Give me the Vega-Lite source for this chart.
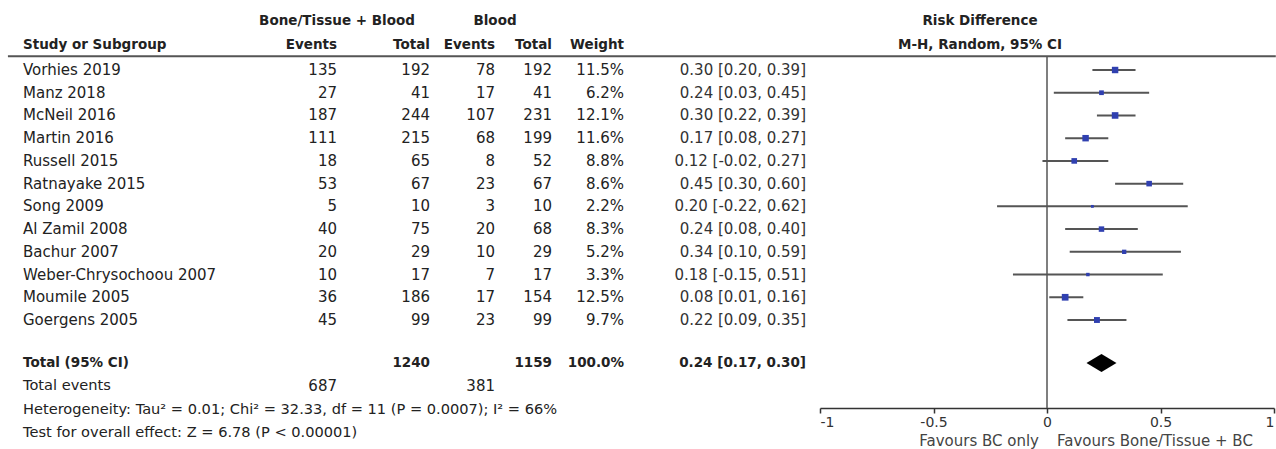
{
  "$schema": "https://vega.github.io/schema/vega-lite/v6.json",
  "width": 1276,
  "height": 449,
  "padding": 0,
  "autosize": {"type": "none"},
  "background": "white",
  "config": {
    "view": {"stroke": null},
    "text": {"font": "DejaVu Sans", "fontSize": 15, "color": "#222", "baseline": "middle"}
  },
  "datasets": {
    "headers": [
      {"label": "Bone/Tissue + Blood", "key": "bt"},
      {"label": "Blood", "key": "b"},
      {"label": "Risk Difference", "key": "rdh"},
      {"label": "M-H, Random, 95% CI", "key": "mh"},
      {"label": "Study or Subgroup", "key": "study"},
      {"label": "Events", "key": "e1"},
      {"label": "Total", "key": "n1"},
      {"label": "Events", "key": "e2"},
      {"label": "Total", "key": "n2"},
      {"label": "Weight", "key": "w"},
      {"label": "Favours BC only", "key": "fl"},
      {"label": "Favours Bone/Tissue + BC", "key": "fr"}
    ],
    "studies": [
      {"study": "Vorhies 2019", "row": 2, "e1": 135, "n1": 192, "e2": 78, "n2": 192, "weight": 0.115, "rd": 0.30, "lo": 0.20, "hi": 0.39, "ci": "0.30 [0.20, 0.39]"},
      {"study": "Manz 2018", "row": 3, "e1": 27, "n1": 41, "e2": 17, "n2": 41, "weight": 0.062, "rd": 0.24, "lo": 0.03, "hi": 0.45, "ci": "0.24 [0.03, 0.45]"},
      {"study": "McNeil 2016", "row": 4, "e1": 187, "n1": 244, "e2": 107, "n2": 231, "weight": 0.121, "rd": 0.30, "lo": 0.22, "hi": 0.39, "ci": "0.30 [0.22, 0.39]"},
      {"study": "Martin 2016", "row": 5, "e1": 111, "n1": 215, "e2": 68, "n2": 199, "weight": 0.116, "rd": 0.17, "lo": 0.08, "hi": 0.27, "ci": "0.17 [0.08, 0.27]"},
      {"study": "Russell 2015", "row": 6, "e1": 18, "n1": 65, "e2": 8, "n2": 52, "weight": 0.088, "rd": 0.12, "lo": -0.02, "hi": 0.27, "ci": "0.12 [-0.02, 0.27]"},
      {"study": "Ratnayake 2015", "row": 7, "e1": 53, "n1": 67, "e2": 23, "n2": 67, "weight": 0.086, "rd": 0.45, "lo": 0.30, "hi": 0.60, "ci": "0.45 [0.30, 0.60]"},
      {"study": "Song 2009", "row": 8, "e1": 5, "n1": 10, "e2": 3, "n2": 10, "weight": 0.022, "rd": 0.20, "lo": -0.22, "hi": 0.62, "ci": "0.20 [-0.22, 0.62]"},
      {"study": "Al Zamil 2008", "row": 9, "e1": 40, "n1": 75, "e2": 20, "n2": 68, "weight": 0.083, "rd": 0.24, "lo": 0.08, "hi": 0.40, "ci": "0.24 [0.08, 0.40]"},
      {"study": "Bachur 2007", "row": 10, "e1": 20, "n1": 29, "e2": 10, "n2": 29, "weight": 0.052, "rd": 0.34, "lo": 0.10, "hi": 0.59, "ci": "0.34 [0.10, 0.59]"},
      {"study": "Weber-Chrysochoou 2007", "row": 11, "e1": 10, "n1": 17, "e2": 7, "n2": 17, "weight": 0.033, "rd": 0.18, "lo": -0.15, "hi": 0.51, "ci": "0.18 [-0.15, 0.51]"},
      {"study": "Moumile 2005", "row": 12, "e1": 36, "n1": 186, "e2": 17, "n2": 154, "weight": 0.125, "rd": 0.08, "lo": 0.01, "hi": 0.16, "ci": "0.08 [0.01, 0.16]"},
      {"study": "Goergens 2005", "row": 13, "e1": 45, "n1": 99, "e2": 23, "n2": 99, "weight": 0.097, "rd": 0.22, "lo": 0.09, "hi": 0.35, "ci": "0.22 [0.09, 0.35]"}
    ],
    "total": [
      {"label": "Total (95% CI)", "row": 15, "n1": 1240, "n2": 1159, "weight": 1.0, "rd": 0.24, "lo": 0.17, "hi": 0.30, "ci": "0.24 [0.17, 0.30]"}
    ],
    "footer": [
      {"label": "Total events", "row": 16, "e1": 687, "e2": 381},
      {"label": "Heterogeneity: Tau² = 0.01; Chi² = 32.33, df = 11 (P = 0.0007); I² = 66%", "row": 17},
      {"label": "Test for overall effect: Z = 6.78 (P < 0.00001)", "row": 18}
    ]
  },
  "resolve": {"scale": {"x": "independent"}},
  "layer": [
    {
      "layer": [
        {"data": {"name": "headers"}, "transform": [{"filter": "datum.key == 'bt'"}], "mark": {"type": "text", "align": "center", "fontWeight": "bold", "fontSize": 13.5},
         "encoding": {"x": {"datum": 1, "type": "quantitative", "axis": null, "scale": {"domain": [0,1,2,3,4,5,6,7], "range": [23,337,430,495,552,624,806,980], "nice": false, "zero": false}},
                      "y": {"datum": 0, "type": "quantitative", "axis": null, "scale": {"domain": [0, 1, 2, 13, 15, 18, 19], "range": [21, 45, 70, 320, 363, 433, 441], "nice": false, "zero": false}}, "text": {"field": "label"}}},
        {"data": {"name": "headers"}, "transform": [{"filter": "datum.key == 'b'"}], "mark": {"type": "text", "align": "center", "fontWeight": "bold", "fontSize": 13.5},
         "encoding": {"x": {"datum": 3, "type": "quantitative", "axis": null, "scale": {"domain": [0,1,2,3,4,5,6,7], "range": [23,337,430,495,552,624,806,980], "nice": false, "zero": false}},
                      "y": {"datum": 0, "type": "quantitative", "axis": null, "scale": {"domain": [0, 1, 2, 13, 15, 18, 19], "range": [21, 45, 70, 320, 363, 433, 441], "nice": false, "zero": false}}, "text": {"field": "label"}}},
        {"data": {"name": "headers"}, "transform": [{"filter": "datum.key == 'rdh'"}], "mark": {"type": "text", "align": "center", "fontWeight": "bold", "fontSize": 13.5},
         "encoding": {"x": {"datum": 7, "type": "quantitative", "axis": null, "scale": {"domain": [0,1,2,3,4,5,6,7], "range": [23,337,430,495,552,624,806,980], "nice": false, "zero": false}},
                      "y": {"datum": 0, "type": "quantitative", "axis": null, "scale": {"domain": [0, 1, 2, 13, 15, 18, 19], "range": [21, 45, 70, 320, 363, 433, 441], "nice": false, "zero": false}}, "text": {"field": "label"}}},
        {"data": {"name": "headers"}, "transform": [{"filter": "datum.key == 'mh'"}], "mark": {"type": "text", "align": "center", "fontWeight": "bold", "fontSize": 13.5},
         "encoding": {"x": {"datum": 7, "type": "quantitative", "axis": null, "scale": {"domain": [0,1,2,3,4,5,6,7], "range": [23,337,430,495,552,624,806,980], "nice": false, "zero": false}},
                      "y": {"datum": 1, "type": "quantitative", "axis": null, "scale": {"domain": [0, 1, 2, 13, 15, 18, 19], "range": [21, 45, 70, 320, 363, 433, 441], "nice": false, "zero": false}}, "text": {"field": "label"}}},
        {"data": {"name": "headers"}, "transform": [{"filter": "datum.key == 'study'"}], "mark": {"type": "text", "align": "left", "fontWeight": "bold", "fontSize": 13.5},
         "encoding": {"x": {"datum": 0, "type": "quantitative", "axis": null, "scale": {"domain": [0,1,2,3,4,5,6,7], "range": [23,337,430,495,552,624,806,980], "nice": false, "zero": false}},
                      "y": {"datum": 1, "type": "quantitative", "axis": null, "scale": {"domain": [0, 1, 2, 13, 15, 18, 19], "range": [21, 45, 70, 320, 363, 433, 441], "nice": false, "zero": false}}, "text": {"field": "label"}}},
        {"data": {"name": "headers"}, "transform": [{"filter": "datum.key == 'e1'"}], "mark": {"type": "text", "align": "right", "fontWeight": "bold", "fontSize": 13.5},
         "encoding": {"x": {"datum": 1, "type": "quantitative", "axis": null, "scale": {"domain": [0,1,2,3,4,5,6,7], "range": [23,337,430,495,552,624,806,980], "nice": false, "zero": false}},
                      "y": {"datum": 1, "type": "quantitative", "axis": null, "scale": {"domain": [0, 1, 2, 13, 15, 18, 19], "range": [21, 45, 70, 320, 363, 433, 441], "nice": false, "zero": false}}, "text": {"field": "label"}}},
        {"data": {"name": "headers"}, "transform": [{"filter": "datum.key == 'n1'"}], "mark": {"type": "text", "align": "right", "fontWeight": "bold", "fontSize": 13.5},
         "encoding": {"x": {"datum": 2, "type": "quantitative", "axis": null, "scale": {"domain": [0,1,2,3,4,5,6,7], "range": [23,337,430,495,552,624,806,980], "nice": false, "zero": false}},
                      "y": {"datum": 1, "type": "quantitative", "axis": null, "scale": {"domain": [0, 1, 2, 13, 15, 18, 19], "range": [21, 45, 70, 320, 363, 433, 441], "nice": false, "zero": false}}, "text": {"field": "label"}}},
        {"data": {"name": "headers"}, "transform": [{"filter": "datum.key == 'e2'"}], "mark": {"type": "text", "align": "right", "fontWeight": "bold", "fontSize": 13.5},
         "encoding": {"x": {"datum": 3, "type": "quantitative", "axis": null, "scale": {"domain": [0,1,2,3,4,5,6,7], "range": [23,337,430,495,552,624,806,980], "nice": false, "zero": false}},
                      "y": {"datum": 1, "type": "quantitative", "axis": null, "scale": {"domain": [0, 1, 2, 13, 15, 18, 19], "range": [21, 45, 70, 320, 363, 433, 441], "nice": false, "zero": false}}, "text": {"field": "label"}}},
        {"data": {"name": "headers"}, "transform": [{"filter": "datum.key == 'n2'"}], "mark": {"type": "text", "align": "right", "fontWeight": "bold", "fontSize": 13.5},
         "encoding": {"x": {"datum": 4, "type": "quantitative", "axis": null, "scale": {"domain": [0,1,2,3,4,5,6,7], "range": [23,337,430,495,552,624,806,980], "nice": false, "zero": false}},
                      "y": {"datum": 1, "type": "quantitative", "axis": null, "scale": {"domain": [0, 1, 2, 13, 15, 18, 19], "range": [21, 45, 70, 320, 363, 433, 441], "nice": false, "zero": false}}, "text": {"field": "label"}}},
        {"data": {"name": "headers"}, "transform": [{"filter": "datum.key == 'w'"}], "mark": {"type": "text", "align": "right", "fontWeight": "bold", "fontSize": 13.5},
         "encoding": {"x": {"datum": 5, "type": "quantitative", "axis": null, "scale": {"domain": [0,1,2,3,4,5,6,7], "range": [23,337,430,495,552,624,806,980], "nice": false, "zero": false}},
                      "y": {"datum": 1, "type": "quantitative", "axis": null, "scale": {"domain": [0, 1, 2, 13, 15, 18, 19], "range": [21, 45, 70, 320, 363, 433, 441], "nice": false, "zero": false}}, "text": {"field": "label"}}},
        {"data": {"name": "headers"}, "transform": [{"filter": "datum.key == 'study'"}], "mark": {"type": "rule", "color": "#555", "strokeWidth": 2},
         "encoding": {"x": {"datum": -0.048, "type": "quantitative", "axis": null, "scale": {"domain": [0,1,2,3,4,5,6,7], "range": [23,337,430,495,552,624,806,980], "nice": false, "zero": false}},
                      "x2": {"datum": 8.7},
                      "y": {"datum": 1.45, "type": "quantitative", "axis": null, "scale": {"domain": [0, 1, 2, 13, 15, 18, 19], "range": [21, 45, 70, 320, 363, 433, 441], "nice": false, "zero": false}}}},

        {"data": {"name": "studies"}, "mark": {"type": "text", "align": "left"},
         "encoding": {"x": {"datum": 0, "type": "quantitative", "axis": null, "scale": {"domain": [0,1,2,3,4,5,6,7], "range": [23,337,430,495,552,624,806,980], "nice": false, "zero": false}},
                      "y": {"field": "row", "type": "quantitative", "axis": null, "scale": {"domain": [0, 1, 2, 13, 15, 18, 19], "range": [21, 45, 70, 320, 363, 433, 441], "nice": false, "zero": false}}, "text": {"field": "study"}}},
        {"data": {"name": "studies"}, "mark": {"type": "text", "align": "right"},
         "encoding": {"x": {"datum": 1, "type": "quantitative", "axis": null, "scale": {"domain": [0,1,2,3,4,5,6,7], "range": [23,337,430,495,552,624,806,980], "nice": false, "zero": false}},
                      "y": {"field": "row", "type": "quantitative", "axis": null, "scale": {"domain": [0, 1, 2, 13, 15, 18, 19], "range": [21, 45, 70, 320, 363, 433, 441], "nice": false, "zero": false}}, "text": {"field": "e1"}}},
        {"data": {"name": "studies"}, "mark": {"type": "text", "align": "right"},
         "encoding": {"x": {"datum": 2, "type": "quantitative", "axis": null, "scale": {"domain": [0,1,2,3,4,5,6,7], "range": [23,337,430,495,552,624,806,980], "nice": false, "zero": false}},
                      "y": {"field": "row", "type": "quantitative", "axis": null, "scale": {"domain": [0, 1, 2, 13, 15, 18, 19], "range": [21, 45, 70, 320, 363, 433, 441], "nice": false, "zero": false}}, "text": {"field": "n1"}}},
        {"data": {"name": "studies"}, "mark": {"type": "text", "align": "right"},
         "encoding": {"x": {"datum": 3, "type": "quantitative", "axis": null, "scale": {"domain": [0,1,2,3,4,5,6,7], "range": [23,337,430,495,552,624,806,980], "nice": false, "zero": false}},
                      "y": {"field": "row", "type": "quantitative", "axis": null, "scale": {"domain": [0, 1, 2, 13, 15, 18, 19], "range": [21, 45, 70, 320, 363, 433, 441], "nice": false, "zero": false}}, "text": {"field": "e2"}}},
        {"data": {"name": "studies"}, "mark": {"type": "text", "align": "right"},
         "encoding": {"x": {"datum": 4, "type": "quantitative", "axis": null, "scale": {"domain": [0,1,2,3,4,5,6,7], "range": [23,337,430,495,552,624,806,980], "nice": false, "zero": false}},
                      "y": {"field": "row", "type": "quantitative", "axis": null, "scale": {"domain": [0, 1, 2, 13, 15, 18, 19], "range": [21, 45, 70, 320, 363, 433, 441], "nice": false, "zero": false}}, "text": {"field": "n2"}}},
        {"data": {"name": "studies"}, "mark": {"type": "text", "align": "right"},
         "encoding": {"x": {"datum": 5, "type": "quantitative", "axis": null, "scale": {"domain": [0,1,2,3,4,5,6,7], "range": [23,337,430,495,552,624,806,980], "nice": false, "zero": false}},
                      "y": {"field": "row", "type": "quantitative", "axis": null, "scale": {"domain": [0, 1, 2, 13, 15, 18, 19], "range": [21, 45, 70, 320, 363, 433, 441], "nice": false, "zero": false}}, "text": {"field": "weight", "type": "quantitative", "format": ".1%"}}},
        {"data": {"name": "studies"}, "mark": {"type": "text", "align": "right", "color": "#333"},
         "encoding": {"x": {"datum": 6, "type": "quantitative", "axis": null, "scale": {"domain": [0,1,2,3,4,5,6,7], "range": [23,337,430,495,552,624,806,980], "nice": false, "zero": false}},
                      "y": {"field": "row", "type": "quantitative", "axis": null, "scale": {"domain": [0, 1, 2, 13, 15, 18, 19], "range": [21, 45, 70, 320, 363, 433, 441], "nice": false, "zero": false}}, "text": {"field": "ci"}}},

        {"data": {"name": "total"}, "mark": {"type": "text", "align": "left", "fontWeight": "bold", "fontSize": 13.5},
         "encoding": {"x": {"datum": 0, "type": "quantitative", "axis": null, "scale": {"domain": [0,1,2,3,4,5,6,7], "range": [23,337,430,495,552,624,806,980], "nice": false, "zero": false}},
                      "y": {"field": "row", "type": "quantitative", "axis": null, "scale": {"domain": [0, 1, 2, 13, 15, 18, 19], "range": [21, 45, 70, 320, 363, 433, 441], "nice": false, "zero": false}}, "text": {"field": "label"}}},
        {"data": {"name": "total"}, "mark": {"type": "text", "align": "right", "fontWeight": "bold", "fontSize": 13.5},
         "encoding": {"x": {"datum": 2, "type": "quantitative", "axis": null, "scale": {"domain": [0,1,2,3,4,5,6,7], "range": [23,337,430,495,552,624,806,980], "nice": false, "zero": false}},
                      "y": {"field": "row", "type": "quantitative", "axis": null, "scale": {"domain": [0, 1, 2, 13, 15, 18, 19], "range": [21, 45, 70, 320, 363, 433, 441], "nice": false, "zero": false}}, "text": {"field": "n1"}}},
        {"data": {"name": "total"}, "mark": {"type": "text", "align": "right", "fontWeight": "bold", "fontSize": 13.5},
         "encoding": {"x": {"datum": 4, "type": "quantitative", "axis": null, "scale": {"domain": [0,1,2,3,4,5,6,7], "range": [23,337,430,495,552,624,806,980], "nice": false, "zero": false}},
                      "y": {"field": "row", "type": "quantitative", "axis": null, "scale": {"domain": [0, 1, 2, 13, 15, 18, 19], "range": [21, 45, 70, 320, 363, 433, 441], "nice": false, "zero": false}}, "text": {"field": "n2"}}},
        {"data": {"name": "total"}, "mark": {"type": "text", "align": "right", "fontWeight": "bold", "fontSize": 13.5},
         "encoding": {"x": {"datum": 5, "type": "quantitative", "axis": null, "scale": {"domain": [0,1,2,3,4,5,6,7], "range": [23,337,430,495,552,624,806,980], "nice": false, "zero": false}},
                      "y": {"field": "row", "type": "quantitative", "axis": null, "scale": {"domain": [0, 1, 2, 13, 15, 18, 19], "range": [21, 45, 70, 320, 363, 433, 441], "nice": false, "zero": false}}, "text": {"field": "weight", "type": "quantitative", "format": ".1%"}}},
        {"data": {"name": "total"}, "mark": {"type": "text", "align": "right", "fontWeight": "bold", "fontSize": 13.5},
         "encoding": {"x": {"datum": 6, "type": "quantitative", "axis": null, "scale": {"domain": [0,1,2,3,4,5,6,7], "range": [23,337,430,495,552,624,806,980], "nice": false, "zero": false}},
                      "y": {"field": "row", "type": "quantitative", "axis": null, "scale": {"domain": [0, 1, 2, 13, 15, 18, 19], "range": [21, 45, 70, 320, 363, 433, 441], "nice": false, "zero": false}}, "text": {"field": "ci"}}},

        {"data": {"name": "footer"}, "mark": {"type": "text", "align": "left", "fontSize": 14.6},
         "encoding": {"x": {"datum": 0, "type": "quantitative", "axis": null, "scale": {"domain": [0,1,2,3,4,5,6,7], "range": [23,337,430,495,552,624,806,980], "nice": false, "zero": false}},
                      "y": {"field": "row", "type": "quantitative", "axis": null, "scale": {"domain": [0, 1, 2, 13, 15, 18, 19], "range": [21, 45, 70, 320, 363, 433, 441], "nice": false, "zero": false}}, "text": {"field": "label"}}},
        {"data": {"name": "footer"}, "transform": [{"filter": "isValid(datum.e1)"}], "mark": {"type": "text", "align": "right"},
         "encoding": {"x": {"datum": 1, "type": "quantitative", "axis": null, "scale": {"domain": [0,1,2,3,4,5,6,7], "range": [23,337,430,495,552,624,806,980], "nice": false, "zero": false}},
                      "y": {"field": "row", "type": "quantitative", "axis": null, "scale": {"domain": [0, 1, 2, 13, 15, 18, 19], "range": [21, 45, 70, 320, 363, 433, 441], "nice": false, "zero": false}}, "text": {"field": "e1"}}},
        {"data": {"name": "footer"}, "transform": [{"filter": "isValid(datum.e2)"}], "mark": {"type": "text", "align": "right"},
         "encoding": {"x": {"datum": 3, "type": "quantitative", "axis": null, "scale": {"domain": [0,1,2,3,4,5,6,7], "range": [23,337,430,495,552,624,806,980], "nice": false, "zero": false}},
                      "y": {"field": "row", "type": "quantitative", "axis": null, "scale": {"domain": [0, 1, 2, 13, 15, 18, 19], "range": [21, 45, 70, 320, 363, 433, 441], "nice": false, "zero": false}}, "text": {"field": "e2"}}}
      ]
    },
    {
      "layer": [
        {"data": {"name": "studies"}, "mark": {"type": "rule", "color": "#555", "strokeWidth": 2},
         "encoding": {"x": {"field": "lo", "type": "quantitative", "scale": {"domain": [-1, 1], "range": [820, 1274], "nice": false, "zero": false},
                            "axis": {"values": [-1, -0.5, 0, 0.5, 1], "labelExpr": "datum.value + ''", "orient": "bottom", "offset": -41, "title": null, "grid": false,
                                     "domainColor": "#333", "domainWidth": 1.5, "tickColor": "#333", "tickWidth": 1.5, "tickSize": 5,
                                     "labelFont": "DejaVu Sans", "labelFontSize": 14, "labelColor": "#333", "labelFlush": true, "labelPadding": 2}},
                      "x2": {"field": "hi"},
                      "y": {"field": "row", "type": "quantitative", "axis": null, "scale": {"domain": [0, 1, 2, 13, 15, 18, 19], "range": [21, 45, 70, 320, 363, 433, 441], "nice": false, "zero": false}}}},
        {"data": {"name": "total"}, "mark": {"type": "rule", "color": "#555", "strokeWidth": 1.5},
         "encoding": {"x": {"datum": 0, "type": "quantitative", "scale": {"domain": [-1, 1], "range": [820, 1274], "nice": false, "zero": false}},
                      "y": {"datum": 1.45, "type": "quantitative", "axis": null, "scale": {"domain": [0, 1, 2, 13, 15, 18, 19], "range": [21, 45, 70, 320, 363, 433, 441], "nice": false, "zero": false}}, "y2": {"datum": 16.93}}},
        {"data": {"name": "studies"}, "mark": {"type": "point", "shape": "square", "filled": true, "color": "#3040b0", "opacity": 1},
         "encoding": {"x": {"field": "rd", "type": "quantitative", "scale": {"domain": [-1, 1], "range": [820, 1274], "nice": false, "zero": false}},
                      "y": {"field": "row", "type": "quantitative", "axis": null, "scale": {"domain": [0, 1, 2, 13, 15, 18, 19], "range": [21, 45, 70, 320, 363, 433, 441], "nice": false, "zero": false}},
                      "size": {"field": "weight", "type": "quantitative", "legend": null, "scale": {"domain": [0, 0.125], "range": [0, 45]}}}},
        {"data": {"name": "total"}, "mark": {"type": "point", "shape": "M-1,0L0,-0.6L1,0L0,0.6Z", "filled": true, "color": "black", "opacity": 1, "size": 900},
         "encoding": {"x": {"field": "rd", "type": "quantitative", "scale": {"domain": [-1, 1], "range": [820, 1274], "nice": false, "zero": false}},
                      "y": {"field": "row", "type": "quantitative", "axis": null, "scale": {"domain": [0, 1, 2, 13, 15, 18, 19], "range": [21, 45, 70, 320, 363, 433, 441], "nice": false, "zero": false}}}},
        {"data": {"name": "headers"}, "transform": [{"filter": "datum.key == 'fl'"}], "mark": {"type": "text", "align": "right", "dx": -8, "fontSize": 15, "color": "#444"},
         "encoding": {"x": {"datum": 0, "type": "quantitative", "scale": {"domain": [-1, 1], "range": [820, 1274], "nice": false, "zero": false}},
                      "y": {"datum": 19, "type": "quantitative", "axis": null, "scale": {"domain": [0, 1, 2, 13, 15, 18, 19], "range": [21, 45, 70, 320, 363, 433, 441], "nice": false, "zero": false}}, "text": {"field": "label"}}},
        {"data": {"name": "headers"}, "transform": [{"filter": "datum.key == 'fr'"}], "mark": {"type": "text", "align": "left", "dx": 10, "fontSize": 15, "color": "#444"},
         "encoding": {"x": {"datum": 0, "type": "quantitative", "scale": {"domain": [-1, 1], "range": [820, 1274], "nice": false, "zero": false}},
                      "y": {"datum": 19, "type": "quantitative", "axis": null, "scale": {"domain": [0, 1, 2, 13, 15, 18, 19], "range": [21, 45, 70, 320, 363, 433, 441], "nice": false, "zero": false}}, "text": {"field": "label"}}}
      ]
    }
  ]
}
